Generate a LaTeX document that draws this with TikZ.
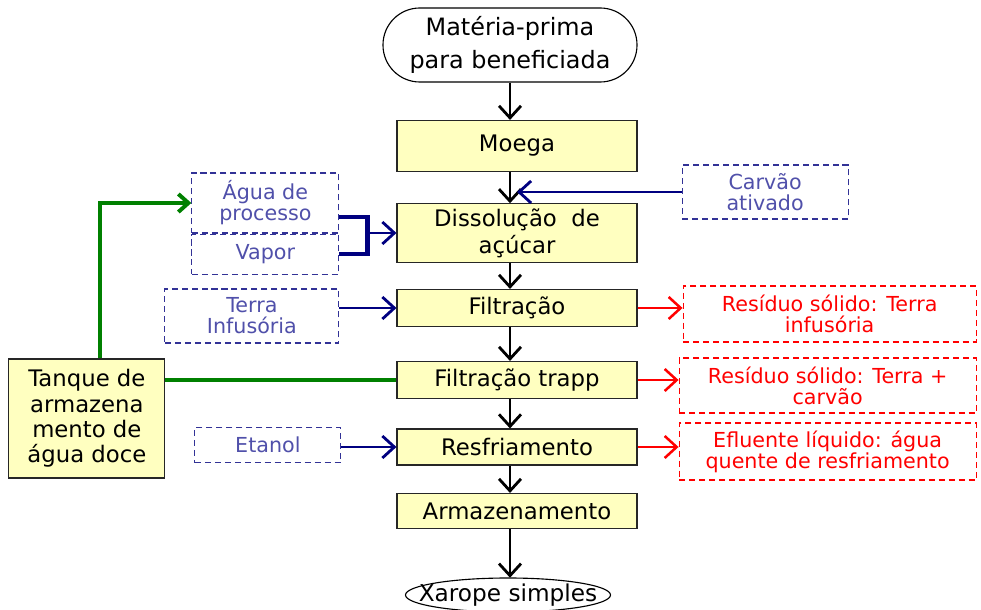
\documentclass[tikz,border=0pt]{standalone}
\usepackage{fontspec}
\setmainfont{DejaVu Sans}
\usetikzlibrary{shapes, arrows.meta, positioning}
\definecolor{boxyellow}{RGB}{255,255,192}
\definecolor{navyline}{RGB}{0,0,128}
\definecolor{navytext}{RGB}{80,80,170}
\definecolor{dashblue}{RGB}{50,50,150}
\definecolor{pipegreen}{RGB}{0,128,0}
\tikzstyle{startstop} = [rectangle, rounded corners=0.92cm, minimum width=6.35cm, minimum height=1.85cm, text centered, draw=black, thick, font=\fontsize{17}{24}\selectfont]
\tikzstyle{process} = [rectangle, minimum width=6cm, text centered, draw=black!85, thick, fill=boxyellow, font=\fontsize{16.2}{19}\selectfont]
\tikzstyle{inbox} = [rectangle, dash pattern=on 4.3pt off 2.8pt, text centered, draw=dashblue, thick, text=navytext, font=\fontsize{14.7}{15}\selectfont]
\tikzstyle{outbox} = [rectangle, dash pattern=on 4.3pt off 2.8pt, text centered, draw=red, thick, text=red, font=\fontsize{14.7}{15}\selectfont]
\tikzstyle{arrow} = [line width=2pt, ->, >={Straight Barb[length=0.3cm, width=0.55cm]}]
\tikzstyle{bluearrow} = [arrow, navyline]
\tikzstyle{redarrow} = [arrow, red, line width=1.8pt]
\tikzstyle{pipe} = [line width=2.8pt, pipegreen]

\begin{document}
\begin{tikzpicture}[node distance=1.8cm, align=center]
    \useasboundingbox (0,0) rectangle (24.525,-15.25);
    % Main line
    \node (start) [startstop] at (12.75,-1.125) {Matéria-prima\\para beneficiada};
    \node (moega) [process, below of=start, yshift=-0.725cm, xshift=0.175cm, minimum height=1.275cm] {Moega};
    \node (dissol) [process, below of=moega, yshift=-0.375cm, minimum height=1.275cm, font=\fontsize{16.2}{19.2}\selectfont] {Dissolução~ de\\açúcar};
    \node (filtr) [process, below of=dissol, yshift=-0.075cm, minimum height=0.925cm] {Filtração};
    \node (trapp) [process, below of=filtr, minimum height=0.925cm] {Filtração trapp};
    \node (resfr) [process, below of=trapp, yshift=0.125cm, minimum height=0.9cm] {Resfriamento};
    \node (armaz) [process, below of=resfr, yshift=0.2cm, minimum height=0.875cm] {Armazenamento};
    \node (xarope) [below of=armaz, yshift=-0.3cm, xshift=-0.225cm, minimum width=5.125cm, minimum height=0.85cm, inner sep=0pt, font=\fontsize{16.5}{19}\selectfont] {Xarope simples};
    \draw [thick] (xarope.center) ellipse [x radius=2.5625cm, y radius=0.425cm];

    % Inputs
    \node (carvao) [inbox, right=1.1cm of dissol, yshift=1.025cm, minimum width=4.15cm, minimum height=1.35cm] {Carvão\\ativado};
    \node (agua) [inbox, left=1.425cm of dissol, yshift=0.75cm, minimum width=3.675cm, minimum height=1.5cm] {Água de\\processo};
    \node (vapor) [inbox, below=0cm of agua, minimum width=3.675cm, minimum height=1cm] {Vapor};
    \node (terra) [inbox, left=1.425cm of filtr, yshift=-0.2cm, minimum width=4.35cm, minimum height=1.35cm] {Terra\\Infusória};
    \node (etanol) [inbox, left=1.375cm of resfr, yshift=0.05cm, minimum width=3.65cm, minimum height=0.875cm] {Etanol};
    \node (tanque) [process, left=5.775cm of trapp, yshift=-0.9625cm, minimum width=3.9cm, minimum height=2.975cm, font=\fontsize{16.2}{18.1}\selectfont] {Tanque de\\armazena\\mento de\\água doce};

    % Outputs
    \node (res1) [outbox, right=1.125cm of filtr, yshift=-0.15cm, minimum width=7.325cm, minimum height=1.4cm] {Resíduo sólido: Terra\\infusória};
    \node (res2) [outbox, right=1.025cm of trapp, yshift=-0.1375cm, minimum width=7.425cm, minimum height=1.375cm] {Resíduo sólido: Terra +\\carvão};
    \node (res3) [outbox, right=1.025cm of resfr, yshift=-0.1125cm, minimum width=7.425cm, minimum height=1.425cm] {Efluente líquido: água\\quente de resfriamento};

    % Arrows
    \draw [arrow] (start.south) -- (start.south |- moega.north);
    \draw [arrow] (moega.south -| start.south) -- (dissol.north -| start.south);
    \draw [arrow] (dissol.south -| start.south) -- (filtr.north -| start.south);
    \draw [arrow] (filtr.south -| start.south) -- (trapp.north -| start.south);
    \draw [arrow] (trapp.south -| start.south) -- (resfr.north -| start.south);
    \draw [arrow] (resfr.south -| start.south) -- (armaz.north -| start.south);
    \draw [arrow] (armaz.south -| start.south) -- (xarope.north -| start.south);

    \draw [bluearrow] (carvao.west) -- (carvao.west -| moega.south);
    \draw [navyline, line width=3pt] ([yshift=-0.35cm]agua.east) -- ++(0.7,0) coordinate (brk) |- (vapor.east);
    \draw [bluearrow] (brk |- dissol.west) -- (dissol.west);
    \draw [bluearrow] (terra.east |- filtr.west) -- (filtr.west);
    \draw [bluearrow] (etanol.east |- resfr.west) -- (resfr.west);

    \draw [redarrow] (filtr.east) -- (filtr.east -| res1.west);
    \draw [redarrow] (trapp.east) -- (trapp.east -| res2.west);
    \draw [redarrow] (resfr.east) -- (resfr.east -| res3.west);

    \draw [pipe] (tanque.east |- trapp.west) -- (trapp.west);
    \draw [pipe, ->, >={Straight Barb[length=0.25cm, width=0.45cm]}] ([xshift=0.325cm]tanque.north) |- (agua.west);
\end{tikzpicture}
\end{document}
